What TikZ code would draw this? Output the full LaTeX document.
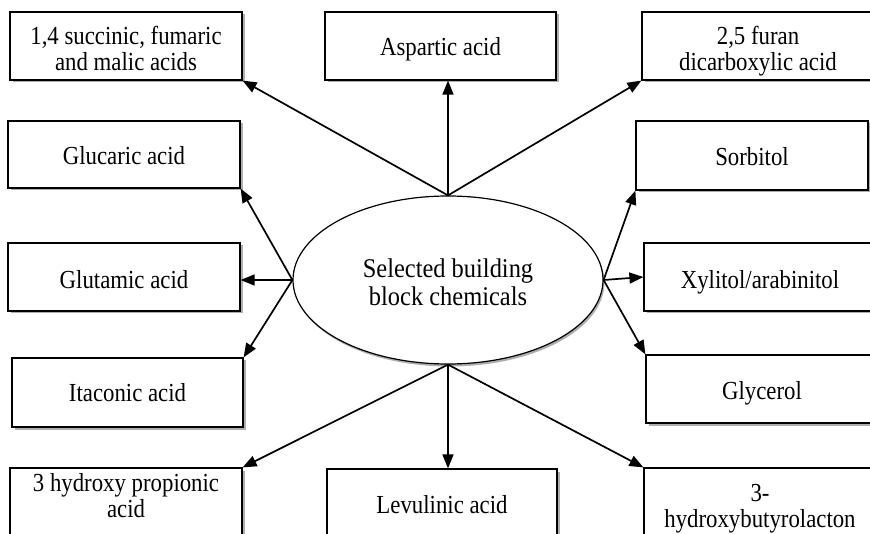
\documentclass[tikz,border=0pt]{standalone}
\usepackage{fontspec}
\setmainfont{Liberation Serif}
\newfontfamily\boxfont{Liberation Serif}[FakeStretch=0.877]
\newfontfamily\hubfont{Liberation Serif}[FakeStretch=0.905]
\usetikzlibrary{arrows.meta,shapes.geometric,shadows}
% centred lines of text, nudged up or down without changing the node size
\newcommand\nudged[2]{\raisebox{#1}[\height][\depth]{\begin{tabular}{@{}c@{}}#2\end{tabular}}}
\begin{document}
\begin{tikzpicture}[x=1pt,y=-1pt,
  chembox/.style={draw,line width=1.2pt,fill=white,inner sep=0pt,
    minimum width=232pt,minimum height=68pt,align=center,
    font=\boxfont\fontsize{26}{25.8}\selectfont,
    drop shadow={shadow xshift=2.5pt,shadow yshift=-2.5pt,fill=black!45,opacity=0.7}},
  hub/.style={draw,ellipse,line width=1.2pt,fill=white,inner sep=0pt,
    minimum width=310pt,minimum height=168pt,align=center,
    font=\hubfont\fontsize{27}{28.5}\selectfont,
    drop shadow={shadow xshift=1.5pt,shadow yshift=-2.5pt,fill=black!45,opacity=0.7}},
  link/.style={line width=1.7pt,-{Triangle[length=14pt,width=11pt]}}]
\useasboundingbox (0,0) rectangle (870,534);
\clip (0,0) rectangle (870,534);

% central ellipse
\node[hub] (ell) at (448,280) {\nudged{-6pt}{Selected building\\block chemicals}};

% top row
\node[chembox] (suc) at (126,46) {\nudged{-6.5pt}{1,4 succinic, fumaric\\and malic acids}};
\node[chembox,minimum width=231pt] (asp) at (440.5,46) {\nudged{-4pt}{Aspartic acid}};
\node[chembox] (fur) at (758,46) {\nudged{-6pt}{2,5 furan\\dicarboxylic acid}};

% second row
\node[chembox,minimum height=67pt] (glc) at (124,154.5) {\nudged{-5pt}{Glucaric acid}};
\node[chembox,minimum height=69pt] (sor) at (752,155.5) {\nudged{-5pt}{Sorbitol}};

% third row
\node[chembox] (glt) at (124,277) {\nudged{-6pt}{Glutamic acid}};
\node[chembox] (xyl) at (760,277) {\nudged{-6pt}{Xylitol/arabinitol}};

% fourth row
\node[chembox,minimum width=231pt,minimum height=69pt] (ita) at (127.5,392.5) {\nudged{-4pt}{Itaconic acid}};
\node[chembox] (gly) at (762,389) {\nudged{-5pt}{Glycerol}};

% bottom row
\node[chembox] (hp) at (126,502) {\nudged{2.5pt}{3 hydroxy propionic\\acid}};
\node[chembox,minimum width=230pt] (lev) at (442,503) {\nudged{-5pt}{Levulinic acid}};
\node[chembox] (hb) at (760,502) {\nudged{-7pt}{3-\\hydroxybutyrolacton}};

% connectors from the ellipse
\draw[link] (ell.north) -- (suc.south east);
\draw[link] (ell.north) -- (ell.north |- asp.south);
\draw[link] (ell.north) -- (fur.south west);
\draw[link] (ell.west) -- (glc.south east);
\draw[link] (ell.west) -- (ell.west -| glt.east);
\draw[link] (ell.west) -- (ita.north east);
\draw[link] (ell.east) -- (sor.south west);
\draw[link] (ell.east) -- (xyl.west);
\draw[link] (ell.east) -- (gly.north west);
\draw[link] (ell.south) -- (hp.north east);
\draw[link] (ell.south) -- (ell.south |- lev.north);
\draw[link] (ell.south) -- (hb.north west);
\end{tikzpicture}
\end{document}
